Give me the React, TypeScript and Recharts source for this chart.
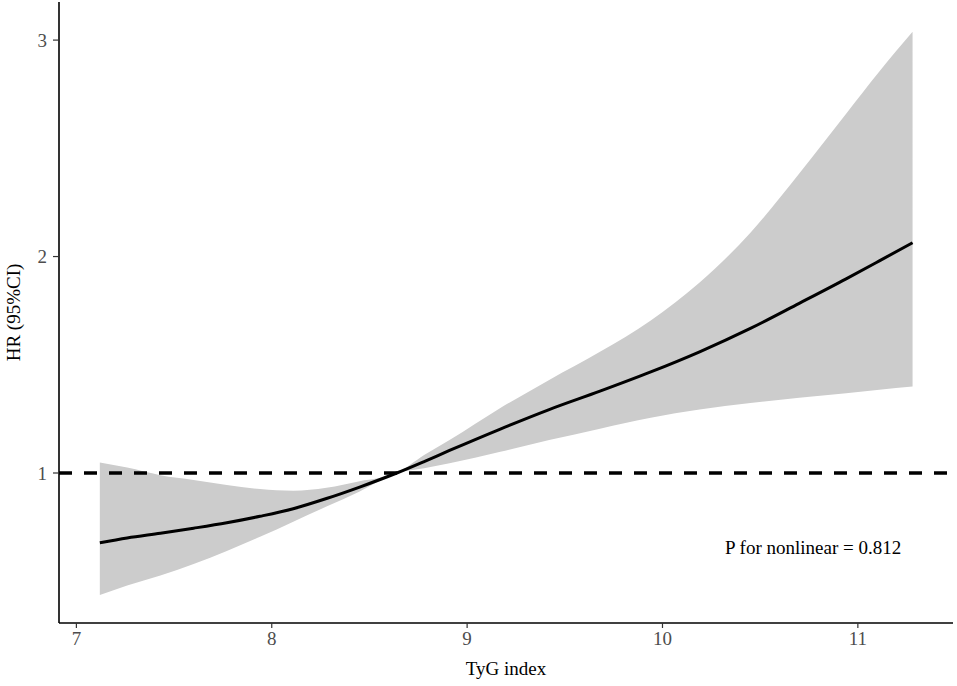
import React from 'react';
import {
  ComposedChart,
  Area,
  Line,
  XAxis,
  YAxis,
  ReferenceLine,
} from 'recharts';

// TyG index grid and the restricted cubic spline estimates
const tyg = [7.12, 7.26, 7.43, 7.6, 7.77, 7.94, 8.11, 8.28, 8.45, 8.64, 8.78, 8.91, 9.17, 9.42, 9.68, 9.94, 10.19, 10.45, 10.7, 10.94, 11.11, 11.28];
const hr = [0.678, 0.7, 0.722, 0.745, 0.77, 0.8, 0.835, 0.882, 0.935, 1.0, 1.053, 1.104, 1.203, 1.293, 1.378, 1.467, 1.56, 1.668, 1.784, 1.897, 1.98, 2.064];
const ciUpper = [1.049, 1.025, 0.99, 0.968, 0.945, 0.926, 0.918, 0.932, 0.962, 1.0, 1.083, 1.152, 1.3, 1.43, 1.56, 1.705, 1.88, 2.11, 2.384, 2.66, 2.855, 3.038];
const ciLower = [0.436, 0.48, 0.527, 0.58, 0.64, 0.705, 0.775, 0.845, 0.915, 1.0, 1.022, 1.045, 1.098, 1.152, 1.205, 1.255, 1.293, 1.323, 1.348, 1.368, 1.385, 1.4];

const xTicks = [7, 8, 9, 10, 11];
const yTicks = [1, 2, 3];
const pNonlinear = 'P for nonlinear = 0.812';

const data = tyg.map((x, i) => ({
  x,
  hr: hr[i],
  band: [ciLower[i], ciUpper[i]],
}));

const font = '"Liberation Serif", "Times New Roman", serif';
const tickStyle = { fontSize: 19, fill: '#4d4d4d', fontFamily: font };

export default function App() {
  return (
    <div style={{ position: 'absolute', left: 0, top: 0, width: 957, height: 686, background: '#fff' }}>
      <ComposedChart width={957} height={686} data={data} margin={{ top: 2, right: 4, bottom: 0, left: 0 }}>
        <XAxis
          dataKey="x"
          type="number"
          domain={[6.911, 11.487]}
          allowDataOverflow
          ticks={xTicks}
          height={63}
          tick={tickStyle}
          tickSize={5}
          tickMargin={4}
          axisLine={{ stroke: '#000', strokeWidth: 1.6 }}
          tickLine={{ stroke: '#333', strokeWidth: 1.2 }}
          label={{ value: 'TyG index', position: 'insideBottom', offset: 11, style: { fontSize: 19, fill: '#000', fontFamily: font } }}
        />
        <YAxis
          type="number"
          domain={[0.307, 3.176]}
          allowDataOverflow
          ticks={yTicks}
          width={59}
          tick={tickStyle}
          tickSize={6}
          tickMargin={6}
          axisLine={{ stroke: '#000', strokeWidth: 1.6 }}
          tickLine={{ stroke: '#333', strokeWidth: 1.2 }}
          label={{ value: 'HR (95%CI)', angle: -90, position: 'insideLeft', offset: 13, style: { textAnchor: 'middle', fontSize: 19, fill: '#000', fontFamily: font } }}
        />
        <Area
          dataKey="band"
          type="monotone"
          stroke="none"
          fill="#cccccc"
          fillOpacity={1}
          isAnimationActive={false}
        />
        <Line
          dataKey="hr"
          type="monotone"
          stroke="#000"
          strokeWidth={3}
          dot={false}
          isAnimationActive={false}
        />
        <ReferenceLine y={1} stroke="#000" strokeWidth={3.5} strokeDasharray="13 12" />
      </ComposedChart>
      <div
        style={{
          position: 'absolute',
          left: 725,
          top: 537,
          fontSize: 19,
          fontFamily: font,
          color: '#000',
          whiteSpace: 'nowrap',
          lineHeight: '22px',
        }}
      >
        {pNonlinear}
      </div>
    </div>
  );
}
